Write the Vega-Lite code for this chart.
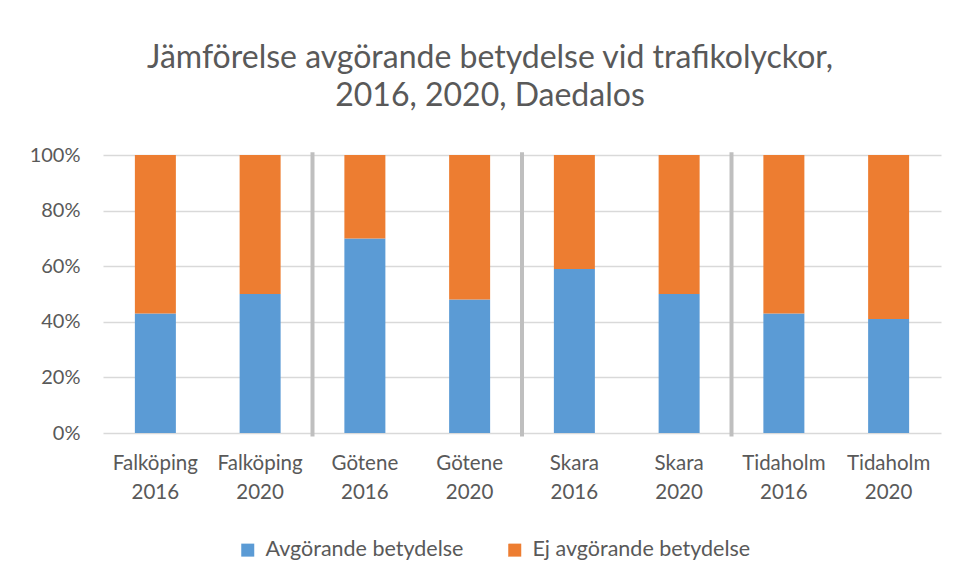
{
  "$schema": "https://vega.github.io/schema/vega-lite/v6.json",
  "width": 838,
  "height": 278,
  "autosize": {"type": "none"},
  "padding": {"left": 103, "top": 155, "right": 17, "bottom": 144},
  "background": "white",
  "title": {
    "text": ["Jämförelse avgörande betydelse vid trafikolyckor,", "2016, 2020, Daedalos"],
    "font": "Lato",
    "fontSize": 32,
    "fontWeight": "normal",
    "color": "#595959",
    "anchor": "middle",
    "dx": -32,
    "offset": 32,
    "lineHeight": 38
  },
  "config": {
    "view": {"stroke": null},
    "font": "Lato"
  },
  "datasets": {
    "bars": [
      {"kategori": "Falköping 2016", "serie": "Avgörande betydelse", "andel": 0.43},
      {"kategori": "Falköping 2016", "serie": "Ej avgörande betydelse", "andel": 0.57},
      {"kategori": "Falköping 2020", "serie": "Avgörande betydelse", "andel": 0.50},
      {"kategori": "Falköping 2020", "serie": "Ej avgörande betydelse", "andel": 0.50},
      {"kategori": "Götene 2016", "serie": "Avgörande betydelse", "andel": 0.70},
      {"kategori": "Götene 2016", "serie": "Ej avgörande betydelse", "andel": 0.30},
      {"kategori": "Götene 2020", "serie": "Avgörande betydelse", "andel": 0.48},
      {"kategori": "Götene 2020", "serie": "Ej avgörande betydelse", "andel": 0.52},
      {"kategori": "Skara 2016", "serie": "Avgörande betydelse", "andel": 0.59},
      {"kategori": "Skara 2016", "serie": "Ej avgörande betydelse", "andel": 0.41},
      {"kategori": "Skara 2020", "serie": "Avgörande betydelse", "andel": 0.50},
      {"kategori": "Skara 2020", "serie": "Ej avgörande betydelse", "andel": 0.50},
      {"kategori": "Tidaholm 2016", "serie": "Avgörande betydelse", "andel": 0.43},
      {"kategori": "Tidaholm 2016", "serie": "Ej avgörande betydelse", "andel": 0.57},
      {"kategori": "Tidaholm 2020", "serie": "Avgörande betydelse", "andel": 0.41},
      {"kategori": "Tidaholm 2020", "serie": "Ej avgörande betydelse", "andel": 0.59}
    ],
    "separators": [
      {"efter": "Falköping 2020"},
      {"efter": "Götene 2020"},
      {"efter": "Skara 2020"}
    ]
  },
  "layer": [
    {
      "data": {"name": "bars"},
      "mark": {"type": "bar", "size": 41},
      "encoding": {
        "x": {
          "field": "kategori",
          "type": "nominal",
          "sort": null,
          "scale": {
            "domain": ["Falköping 2016", "Falköping 2020", "Götene 2016", "Götene 2020", "Skara 2016", "Skara 2020", "Tidaholm 2016", "Tidaholm 2020"],
            "paddingInner": 0,
            "paddingOuter": 0
          },
          "axis": {
            "title": null,
            "labelAngle": 0,
            "labelExpr": "split(datum.label, ' ')",
            "labelFont": "Lato",
            "labelFontSize": 20.5,
            "labelColor": "#595959",
            "labelLineHeight": 29,
            "labelPadding": 20,
            "ticks": false,
            "domain": false,
            "grid": false
          }
        },
        "y": {
          "field": "andel",
          "type": "quantitative",
          "stack": "zero",
          "scale": {"domain": [0, 1], "nice": false},
          "axis": {
            "title": null,
            "format": ".0%",
            "values": [0, 0.2, 0.4, 0.6, 0.8, 1],
            "labelFont": "Lato",
            "labelFontSize": 20,
            "labelColor": "#595959",
            "labelPadding": 23,
            "ticks": false,
            "domain": false,
            "grid": true,
            "gridColor": "#d9d9d9",
            "gridWidth": 1.3
          }
        },
        "color": {
          "field": "serie",
          "type": "nominal",
          "scale": {
            "domain": ["Avgörande betydelse", "Ej avgörande betydelse"],
            "range": ["#5b9bd5", "#ed7d31"]
          },
          "legend": {
            "title": null,
            "orient": "none",
            "direction": "horizontal",
            "legendX": 134,
            "legendY": 384,
            "symbolType": "square",
            "symbolSize": 169,
            "symbolStrokeWidth": 0,
            "labelFont": "Lato",
            "labelFontSize": 21.5,
            "labelColor": "#595959",
            "labelOffset": 7,
            "columnPadding": 40,
            "padding": 0,
            "labelLimit": 400
          }
        },
        "order": {"field": "serie", "sort": "ascending"}
      }
    },
    {
      "data": {"name": "separators"},
      "mark": {"type": "rule", "color": "#bfbfbf", "strokeWidth": 4},
      "encoding": {
        "x": {"field": "efter", "type": "nominal", "bandPosition": 1},
        "y": {"datum": 1.01},
        "y2": {"datum": -0.013}
      }
    }
  ]
}
